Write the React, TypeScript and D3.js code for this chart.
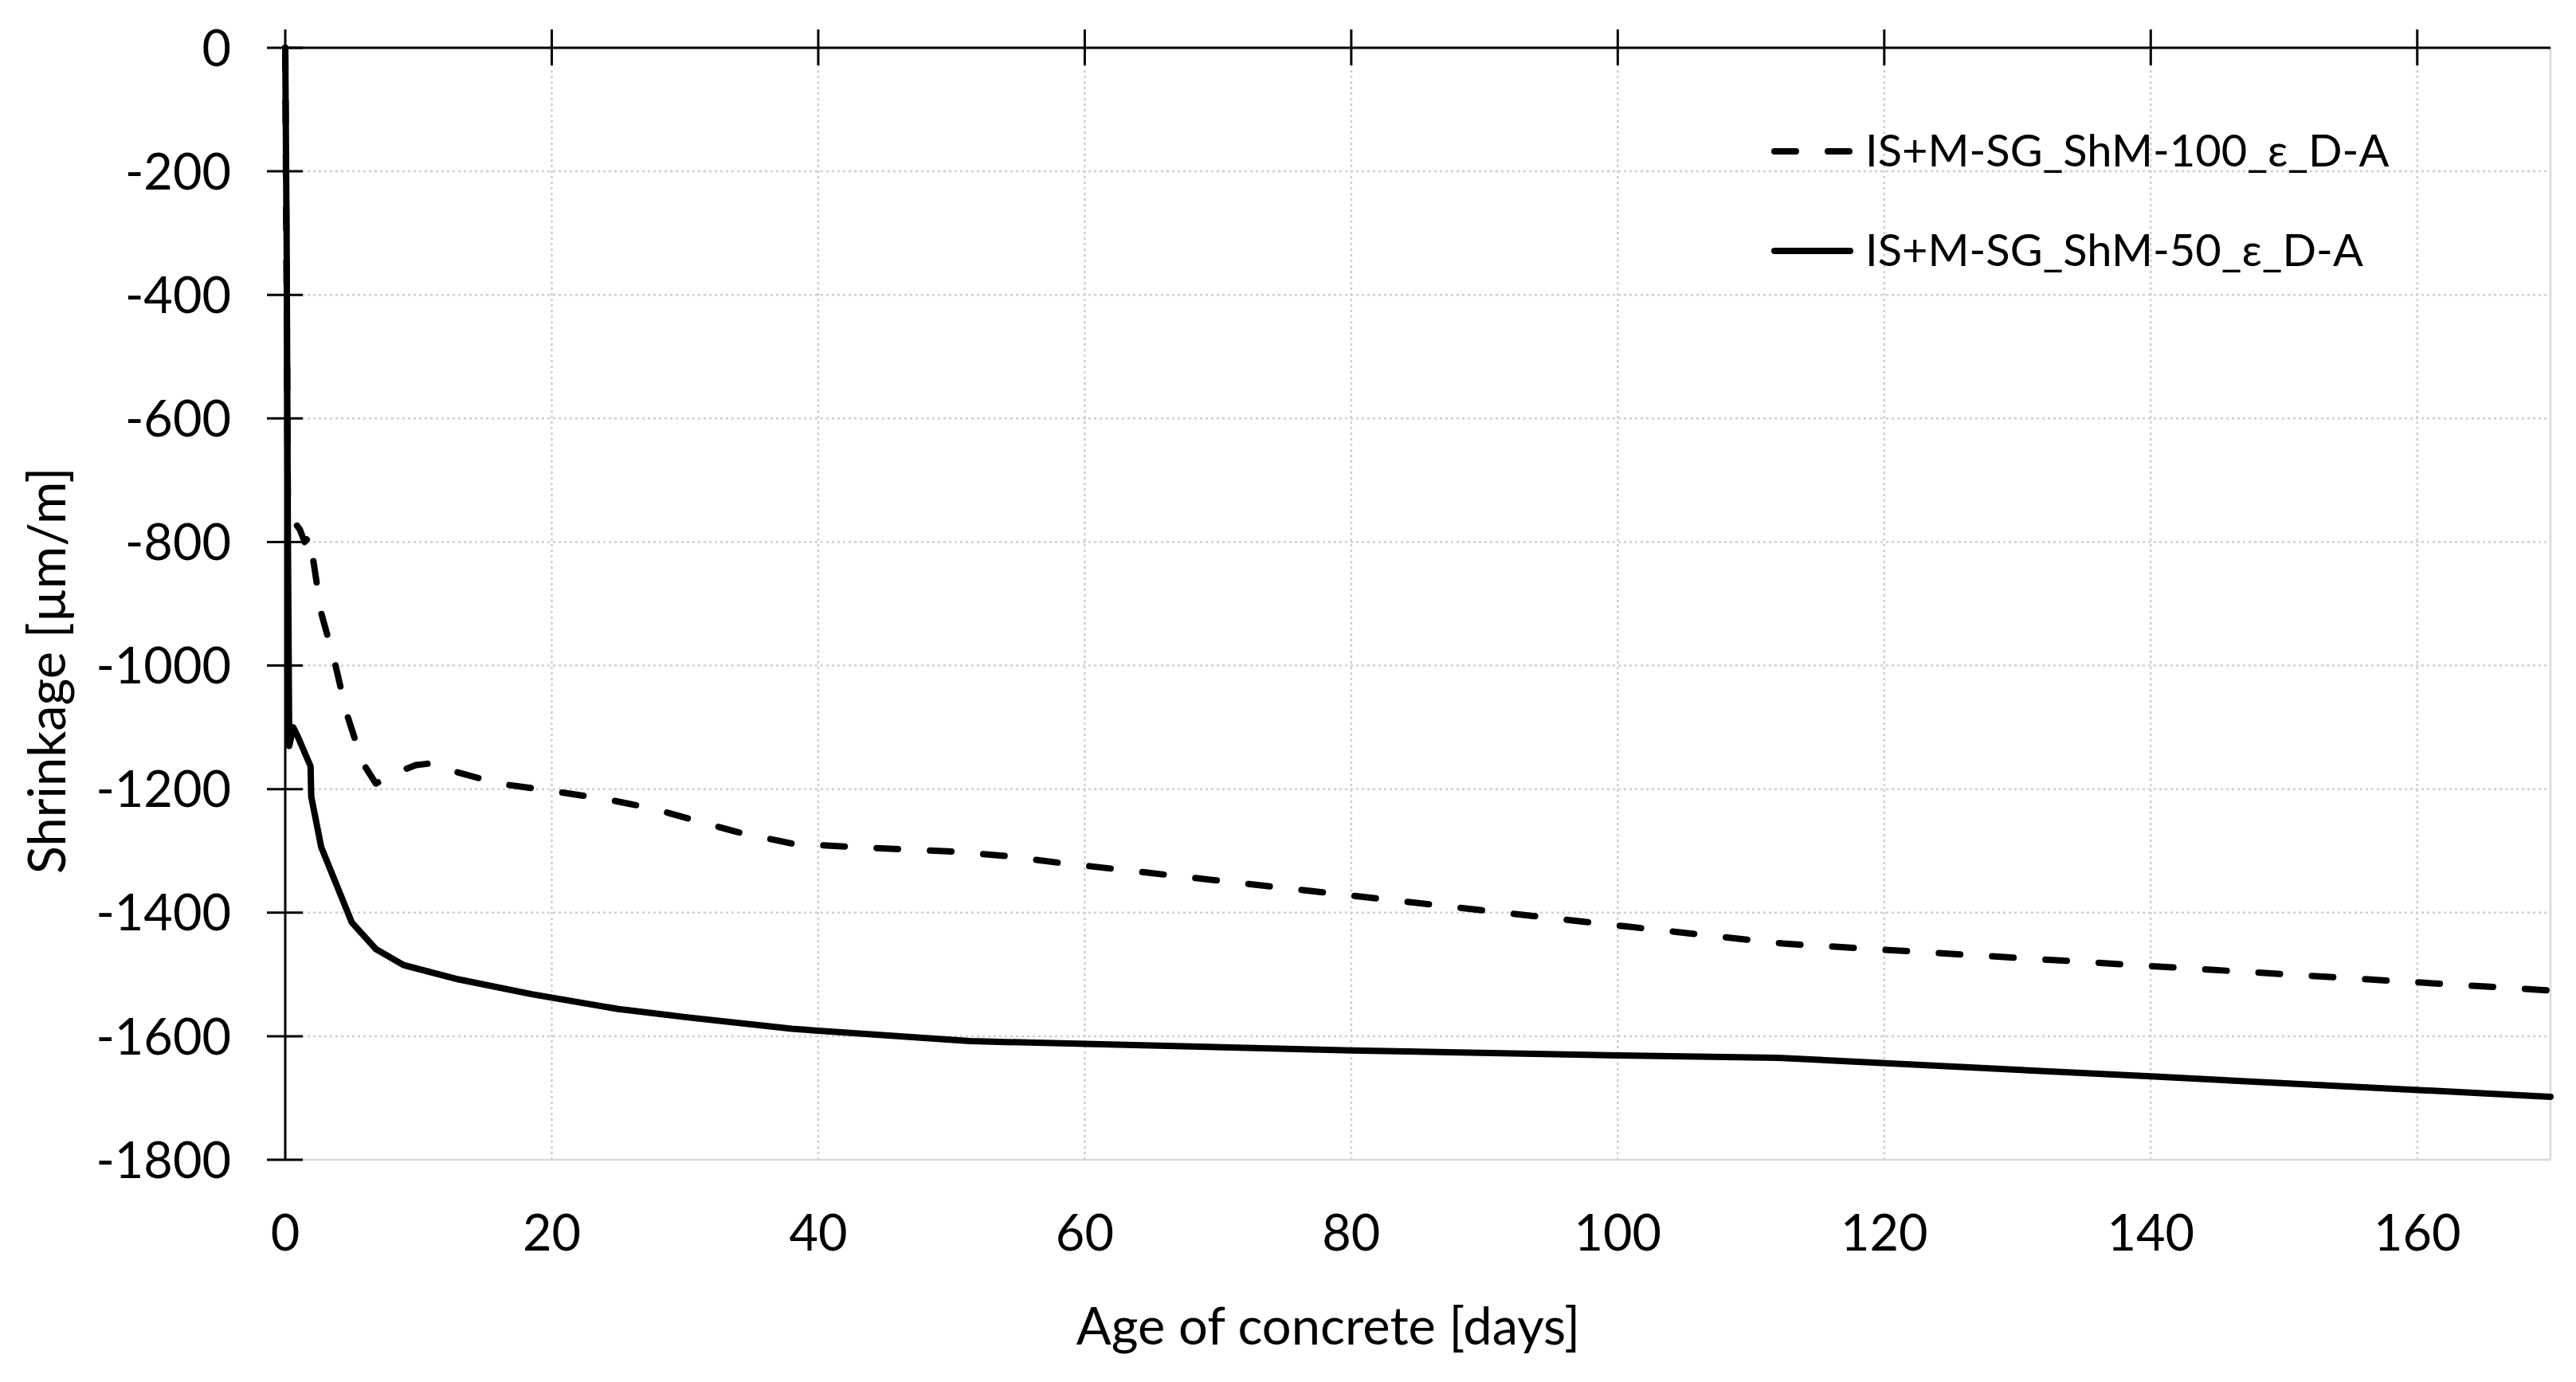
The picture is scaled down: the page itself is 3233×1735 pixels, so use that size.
import React from "react";
import * as d3 from "d3";

// ---- data ----
const xTicks = [0, 20, 40, 60, 80, 100, 120, 140, 160];
const yTicks = [0, -200, -400, -600, -800, -1000, -1200, -1400, -1600, -1800];

const seriesNames = ["IS+M-SG_ShM-100_ε_D-A", "IS+M-SG_ShM-50_ε_D-A"];

const days100 = [0, 0.2, 0.6, 1.1, 1.45, 1.9, 2.1, 2.7, 3.7, 4.6, 5.8, 6.8, 8.5, 9.8, 11.1, 12.3, 16, 20, 24, 27.5, 30, 34, 38, 42, 46, 50, 54, 58, 100.5, 112.4, 170];
const vals100 = [0, -748, -765, -780, -800, -789, -829, -915, -993, -1077, -1157, -1191, -1172, -1161, -1158, -1169, -1191, -1203, -1216, -1231, -1246, -1270, -1288, -1293, -1297, -1301, -1308, -1319, -1422, -1450, -1526];

const days50 = [0, 0.1, 0.2, 0.3, 0.6, 0.9, 1.9, 1.95, 2.7, 5.0, 6.8, 8.9, 13, 18.5, 25, 30, 38, 51.4, 80, 100, 112, 140, 170];
const vals50 = [0, -300, -800, -1130, -1100, -1113, -1163, -1212, -1294, -1416, -1459, -1485, -1508, -1532, -1556, -1569, -1588, -1608, -1623, -1631, -1635, -1665, -1698];

const W = 3233;
const H = 1735;
const L = 358, R = 3201, T = 60, B = 1456;
const FONT = "Lato, 'Open Sans', sans-serif";

export default function App() {
  const x = d3.scaleLinear().domain([0, 170]).range([L, R]);
  const y = d3.scaleLinear().domain([-1800, 0]).range([B, T]);
  const line = d3.line<[number, number]>().x(d => x(d[0])).y(d => y(d[1]));
  const pts100 = days100.map((d, i) => [d, vals100[i]] as [number, number]);
  const pts50 = days50.map((d, i) => [d, vals50[i]] as [number, number]);

  const grid = "#cfcfcf";
  return (
    <svg width={W} height={H} style={{ position: "absolute", left: 0, top: 0, background: "#fff" }} fontFamily={FONT}>
      <rect x={0} y={0} width={W} height={H} fill="#fff" />
      {/* gridlines */}
      {yTicks.filter(v => v !== 0 && v !== -1800).map(v => (
        <line key={"gy" + v} x1={L} x2={R} y1={y(v)} y2={y(v)} stroke={grid} strokeWidth={2.5} strokeDasharray="3 4" />
      ))}
      {xTicks.filter(v => v !== 0).map(v => (
        <line key={"gx" + v} x1={x(v)} x2={x(v)} y1={T} y2={B} stroke={grid} strokeWidth={2.5} strokeDasharray="3 4" />
      ))}
      {/* plot border right & bottom */}
      <line x1={R} x2={R} y1={T} y2={B} stroke="#d9d9d9" strokeWidth={2.5} />
      <line x1={L} x2={R} y1={B} y2={B} stroke="#d9d9d9" strokeWidth={2.5} />
      {/* axes */}
      <line x1={L} x2={L} y1={T} y2={B} stroke="#000" strokeWidth={3} />
      <line x1={L} x2={R} y1={y(0)} y2={y(0)} stroke="#000" strokeWidth={3} />
      {yTicks.map(v => (
        <line key={"ty" + v} x1={L - 23} x2={L + 22} y1={y(v)} y2={y(v)} stroke="#000" strokeWidth={3} />
      ))}
      {xTicks.map(v => (
        <line key={"tx" + v} x1={x(v)} x2={x(v)} y1={y(0) - 23} y2={y(0) + 22} stroke="#000" strokeWidth={3} />
      ))}
      {/* tick labels */}
      {yTicks.map(v => (
        <text key={"ly" + v} x={290} y={y(v)} dy="0.36em" textAnchor="end" fontSize={63} fill="#000">{v}</text>
      ))}
      {xTicks.map(v => (
        <text key={"lx" + v} x={x(v)} y={1570} textAnchor="middle" fontSize={63} fill="#000">{v}</text>
      ))}
      {/* axis titles */}
      <text x={1667} y={1688} textAnchor="middle" fontSize={65} fill="#000">Age of concrete [days]</text>
      <text transform={`translate(82,842) rotate(-90)`} textAnchor="middle" fontSize={65} fill="#000">Shrinkage [µm/m]</text>
      {/* data */}
      <path d={line(pts100) || ""} fill="none" stroke="#000" strokeWidth={8} strokeDasharray="27 40" strokeLinecap="round" strokeLinejoin="round" />
      <path d={line(pts50) || ""} fill="none" stroke="#000" strokeWidth={8} strokeLinecap="round" strokeLinejoin="round" />
      {/* legend */}
      <line x1={2227} x2={2322} y1={190} y2={190} stroke="#000" strokeWidth={8} strokeDasharray="27 40" strokeLinecap="round" />
      <text x={2341} y={189} dy="0.36em" fontSize={56} fill="#000">{seriesNames[0]}</text>
      <line x1={2227} x2={2322} y1={315} y2={315} stroke="#000" strokeWidth={8} strokeLinecap="round" />
      <text x={2341} y={314} dy="0.36em" fontSize={56} fill="#000">{seriesNames[1]}</text>
    </svg>
  );
}
